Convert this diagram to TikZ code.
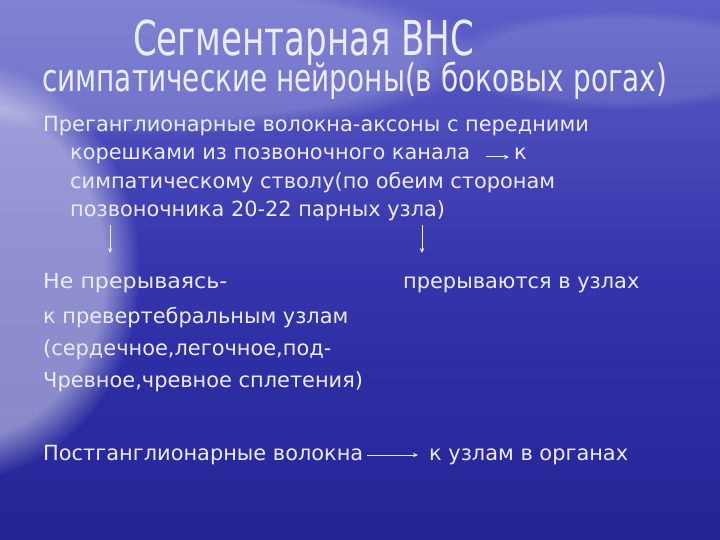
\documentclass[tikz,border=0pt]{standalone}
\usepackage{fontspec}
\usepackage{graphicx}
\setmainfont{DejaVu Sans}
\usetikzlibrary{arrows.meta,fadings}
\definecolor{txt}{RGB}{236,236,255}
\definecolor{bgtop}{RGB}{95,95,200}
\definecolor{bgmid}{RGB}{52,52,172}
\definecolor{bgbot}{RGB}{36,36,150}
\newcommand{\fitw}[2]{\resizebox{#1bp}{\height}{#2}}
\tikzset{
  x=1bp,y=-1bp,
  body/.style={anchor=base west,inner sep=0pt,text=txt,font=\fontsize{20.9bp}{25bp}\selectfont},
  ttl/.style={anchor=base west,inner sep=0pt,text=txt,font=\fontsize{48bp}{52bp}\selectfont},
  ttlb/.style={anchor=base west,inner sep=0pt,text=txt,font=\fontsize{38bp}{42bp}\selectfont},
  conn/.style={draw=txt,line width=1bp,-{Stealth[length=5bp,width=4.5bp]}}
}
\begin{document}
\begin{tikzpicture}
\useasboundingbox (0,0) rectangle (720,540);
% background
\shade[top color=bgtop,bottom color=bgbot,middle color=bgmid] (0,0) rectangle (720,540);
\fill[white,opacity=0.45,path fading=circle with fuzzy edge 20 percent] (-40,270) ellipse [x radius=180,y radius=210];
\fill[white,opacity=0.22,path fading=circle with fuzzy edge 20 percent] (150,55) ellipse [x radius=330,y radius=80];
\fill[white,opacity=0.12,path fading=circle with fuzzy edge 20 percent] (620,60) ellipse [x radius=180,y radius=50];
% titles
\node[ttl] (t1) at (133,56) {\fitw{341}{Сегментарная ВНС}};
\node[ttlb] (t2) at (42,92) {\fitw{625}{симпатические нейроны(в боковых рогах)}};
% paragraph
\node[body] (p1) at (43,132) {Преганглионарные волокна-аксоны с передними};
\node[body] (p2) at (70,160) {корешками из позвоночного канала};
\node[body] (p2k) at (514,160) {к};
\node[body] (p3) at (70,189) {симпатическому стволу(по обеим сторонам};
\node[body] (p4) at (70,217) {позвоночника 20-22 парных узла)};
% lower part
\node[body] (l1) at (43,288) {\scalebox{1.06}[1]{Не прерываясь-}};
\node[body] (r1) at (403,288) {прерываются в узлах};
\node[body] (l2) at (43,323) {к превертебральным узлам};
\node[body] (l3) at (43,355) {(сердечное,легочное,под-};
\node[body] (l4) at (43,387) {Чревное,чревное сплетения)};
\node[body] (b1) at (43,460) {Постганглионарные волокна};
\node[body] (b2) at (429,460) {к узлам в органах};
% connectors
\coordinate (d1s) at (110,225);
\coordinate (d1e) at (110,253);
\coordinate (d2s) at (422,225);
\coordinate (d2e) at (422,253);
\draw[conn] ([xshift=16bp,yshift=3bp]p2.base east) -- ([xshift=-5bp,yshift=3bp]p2k.base west);
\draw[conn] (d1s) -- (d1e);
\draw[conn] (d2s) -- (d2e);
\draw[conn] ([xshift=4bp,yshift=5bp]b1.base east) -- ([xshift=-11bp,yshift=5bp]b2.base west);
\end{tikzpicture}
\end{document}
